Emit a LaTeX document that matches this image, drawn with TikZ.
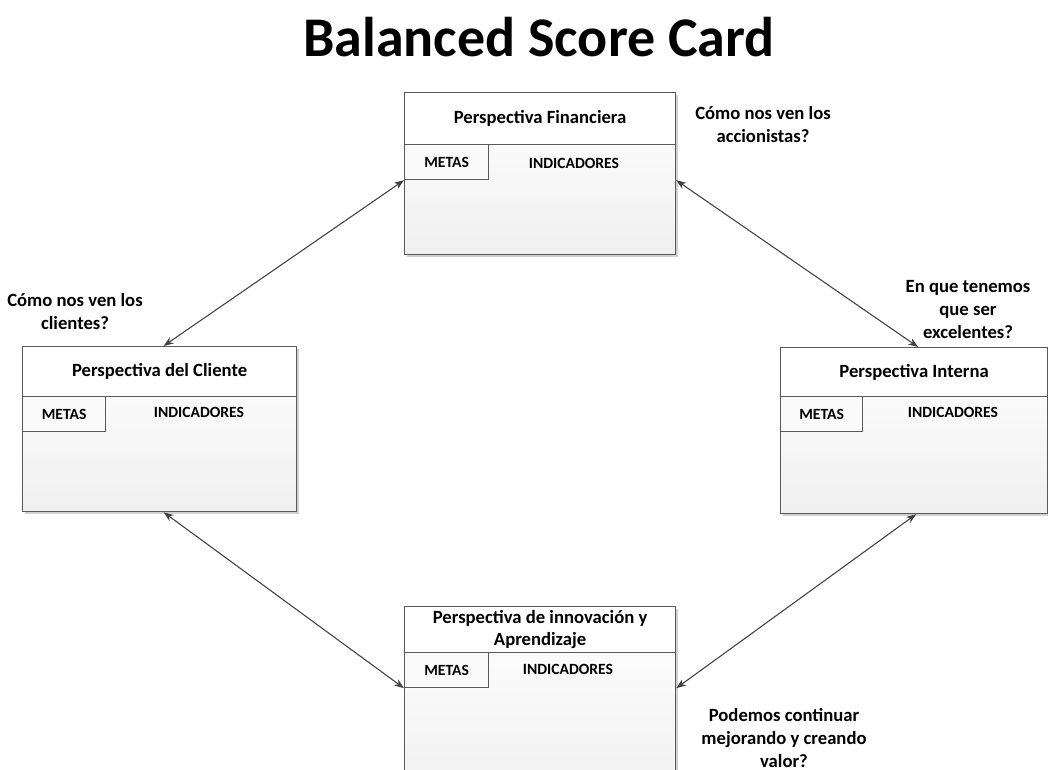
\documentclass[tikz,border=0pt]{standalone}
\usepackage{fontspec}
\setmainfont{Carlito}
\usetikzlibrary{calc,arrows.meta,shadows}
\newdimen\px \px=0.75pt
\definecolor{edge}{HTML}{595959}
\definecolor{arr}{HTML}{404040}
\begin{document}
\begin{tikzpicture}[x=0.75pt,y=-0.75pt,
  body/.style={draw=edge,line width=0.9pt,top color=white,bottom color=black!6,anchor=north west,inner sep=0pt,
    drop shadow={shadow xshift=2pt,shadow yshift=-2pt,fill=black,opacity=0.18}},
  head/.style={draw=edge,line width=0.9pt,fill=white,anchor=north west,inner sep=0pt,align=center,
    font=\fontsize{14}{17.5}\selectfont\bfseries},
  metas/.style={draw=edge,line width=0.9pt,fill=white!98!black,anchor=north west,inner sep=0pt,
    minimum width=84\px,minimum height=35\px,font=\fontsize{11.7}{13}\selectfont\bfseries},
  ind/.style={inner sep=0pt,font=\fontsize{11.7}{13}\selectfont\bfseries},
  question/.style={align=center,inner sep=0pt,font=\fontsize{14}{17.25}\selectfont\bfseries},
  link/.style={draw=arr,line width=0.8pt,{Stealth[length=7.5pt,width=5.5pt]}-{Stealth[length=7.5pt,width=5.5pt]}}
]
\useasboundingbox (0,0) rectangle (1048,769);
\clip (0,0) rectangle (1048,769);

\node[font=\fontsize{42}{46}\selectfont\bfseries] (title) at (539,37) {Balanced Score Card};

% Financiera
\node[body,minimum width=271\px,minimum height=162\px] (finB) at (404,92) {};
\node[head,minimum width=271\px,minimum height=52\px] (finH) at (404,92) {Perspectiva Financiera};
\node[metas] (finM) at (404,144) {METAS};
\node[ind] (finI) at (574,163) {INDICADORES};

% Cliente
\node[body,minimum width=274\px,minimum height=165\px] (cliB) at (22,346) {};
\node[head,minimum width=274\px,minimum height=50\px] (cliH) at (22,346) {Perspectiva del Cliente};
\node[metas,minimum width=83\px] (cliM) at (22,396) {METAS};
\node[ind] (cliI) at (199,412) {INDICADORES};

% Interna
\node[body,minimum width=267\px,minimum height=166\px] (intB) at (780,347) {};
\node[head,minimum width=267\px,minimum height=49\px] (intH) at (780,347) {Perspectiva Interna};
\node[metas,minimum width=82\px] (intM) at (780,396) {METAS};
\node[ind] (intI) at (953,412) {INDICADORES};

% Innovacion
\node[body,minimum width=271\px,minimum height=200\px] (innB) at (404,606) {};
\node[head,minimum width=271\px,minimum height=46\px] (innH) at (404,606) {Perspectiva de innovación y\\[-0.5pt]Aprendizaje};
\node[metas] (innM) at (404,652) {METAS};
\node[ind] (innI) at (568,669) {INDICADORES};

% questions
\node[question] (q1) at (763,125) {Cómo nos ven los\\accionistas?};
\node[question] (q2) at (75,312) {Cómo nos ven los\\clientes?};
\node[question] (q3) at (968,310) {En que tenemos\\que ser\\excelentes?};
\node[question] (q4) at (784,738) {Podemos continuar\\mejorando y creando\\valor?};

% connectors
\draw[link] (finB.west |- finM.south) -- ($(cliH.north)+(4,0)$);
\draw[link] (finB.east |- finM.south) -- ($(intH.north)+(4,0)$);
\draw[link] ($(cliB.south)+(4,0)$) -- (innB.west |- innM.south);
\draw[link] (innB.east |- innM.south) -- ($(intB.south)+(2,0)$);
\end{tikzpicture}
\end{document}
